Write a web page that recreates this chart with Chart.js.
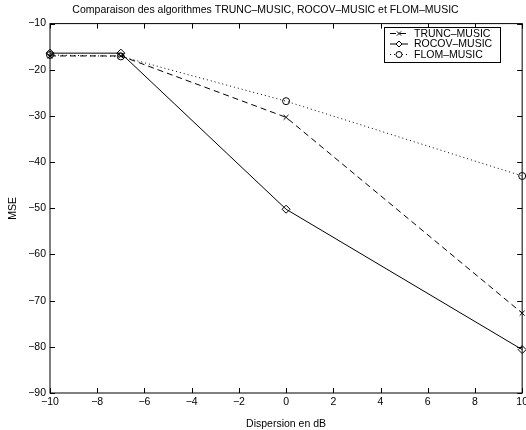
<!DOCTYPE html>
<html>
<head>
<meta charset="utf-8">
<style>
  html, body { margin: 0; padding: 0; background: #fff; overflow: hidden; }
</style>
<script src="https://cdn.jsdelivr.net/npm/chart.js@4.4.0/dist/chart.umd.min.js"></script>
</head>
<body>
<canvas id="c" width="531" height="430"></canvas>
<script>
// Données
const dispersion = [-10, -7, 0, 10];
const truncMusic = [-17.0, -17.0, -30.3, -72.7];
const rocovMusic = [-16.4, -16.4, -50.2, -80.6];
const flomMusic  = [-16.8, -17.1, -26.8, -43.0];
const seriesNames = ['TRUNC–MUSIC', 'ROCOV–MUSIC', 'FLOM–MUSIC'];
const xTicks = [-10, -8, -6, -4, -2, 0, 2, 4, 6, 8, 10];
const yTicks = [-90, -80, -70, -60, -50, -40, -30, -20, -10];

const FONT = 'Liberation Sans, Arial, Helvetica, sans-serif';
const FS = 10.5;
const pts = ys => dispersion.map((x, i) => ({ x: x, y: ys[i] }));
const minus = v => String(v).replace('-', '−');

function mk(label, ys, style, dash) {
  return {
    label: label,
    data: pts(ys),
    borderColor: '#000',
    borderWidth: 1,
    borderDash: dash,
    pointStyle: style,
    pointRadius: style === 'rectRot' ? 4 : 3.5,
    pointBorderColor: '#000',
    pointBackgroundColor: 'rgba(0,0,0,0)',
    pointBorderWidth: 1,
    fill: false,
    tension: 0,
    clip: false
  };
}

// boite + graduations vers l'interieur, style matlab
const boxPlugin = {
  id: 'box',
  afterDraw(chart) {
    const { ctx, chartArea: a, scales } = chart;
    ctx.save();
    ctx.strokeStyle = '#000';
    ctx.lineWidth = 1;
    ctx.strokeRect(a.left, a.top, a.right - a.left, a.bottom - a.top);
    ctx.beginPath();
    xTicks.forEach(v => {
      const px = Math.round(scales.x.getPixelForValue(v)) + 0.5;
      ctx.moveTo(px, a.bottom); ctx.lineTo(px, a.bottom - 5);
      ctx.moveTo(px, a.top); ctx.lineTo(px, a.top + 5);
    });
    yTicks.forEach(v => {
      const py = Math.round(scales.y.getPixelForValue(v)) + 0.5;
      ctx.moveTo(a.left, py); ctx.lineTo(a.left + 5, py);
      ctx.moveTo(a.right, py); ctx.lineTo(a.right - 5, py);
    });
    ctx.stroke();
    ctx.restore();
  }
};

// legende dans le coin haut droit
const legendPlugin = {
  id: 'boxLegend',
  afterDraw(chart) {
    const { ctx } = chart;
    const x0 = 384, y0 = 27, w = 116, h = 35, row = 10.5;
    ctx.save();
    ctx.fillStyle = '#fff';
    ctx.fillRect(x0, y0, w, h);
    ctx.strokeStyle = '#000';
    ctx.lineWidth = 1;
    ctx.strokeRect(x0 + 0.5, y0 + 0.5, w, h);
    ctx.font = FS + 'px ' + FONT;
    ctx.textBaseline = 'middle';
    chart.data.datasets.forEach((ds, i) => {
      const y = y0 + 6.5 + i * row;
      ctx.strokeStyle = '#000';
      ctx.setLineDash(ds.borderDash || []);
      ctx.beginPath();
      ctx.moveTo(x0 + 6, y); ctx.lineTo(x0 + 24, y);
      ctx.stroke();
      ctx.setLineDash([]);
      ctx.fillStyle = '#fff';
      Chart.helpers.drawPoint(ctx, {
        pointStyle: ds.pointStyle, radius: 3, rotation: 0, borderWidth: 1
      }, x0 + 15, y);
      ctx.fillStyle = '#000';
      ctx.fillText(ds.label, x0 + 30, y + 0.5);
    });
    ctx.restore();
  }
};

new Chart(document.getElementById('c'), {
  type: 'line',
  data: {
    datasets: [
      mk(seriesNames[0], truncMusic, 'crossRot', [6, 4]),
      mk(seriesNames[1], rocovMusic, 'rectRot', []),
      mk(seriesNames[2], flomMusic, 'circle', [1, 3])
    ]
  },
  options: {
    responsive: false,
    animation: false,
    layout: { padding: { left: 0, right: 0, top: 0, bottom: 0 } },
    plugins: {
      legend: { display: false },
      tooltip: { enabled: false },
      title: {
        display: true,
        text: 'Comparaison des algorithmes ' + seriesNames[0] + ', ' + seriesNames[1] + ' et ' + seriesNames[2],
        color: '#000',
        font: { family: FONT, size: FS, weight: 'normal' },
        padding: { top: 4, bottom: 7 }
      }
    },
    scales: {
      x: {
        type: 'linear',
        min: -10, max: 10,
        afterBuildTicks: s => { s.ticks = xTicks.map(v => ({ value: v })); },
        grid: { display: false, drawTicks: false },
        border: { display: false },
        ticks: { color: '#000', font: { family: FONT, size: FS }, padding: 3, maxRotation: 0, callback: v => minus(v) },
        title: { display: true, text: 'Dispersion en dB', color: '#000', font: { family: FONT, size: FS }, padding: { top: 2, bottom: 0 } },
        afterFit: s => { s.height = 37; }
      },
      y: {
        min: -90, max: -10,
        afterBuildTicks: s => { s.ticks = yTicks.map(v => ({ value: v })); },
        grid: { display: false, drawTicks: false },
        border: { display: false },
        ticks: { color: '#000', font: { family: FONT, size: FS }, padding: 4, callback: v => minus(v) },
        title: { display: true, text: 'MSE', color: '#000', font: { family: FONT, size: FS }, padding: { top: 7, bottom: 0 } },
        afterFit: s => { s.width = 50; }
      }
    }
  },
  plugins: [boxPlugin, legendPlugin]
});
</script>
</body>
</html>
